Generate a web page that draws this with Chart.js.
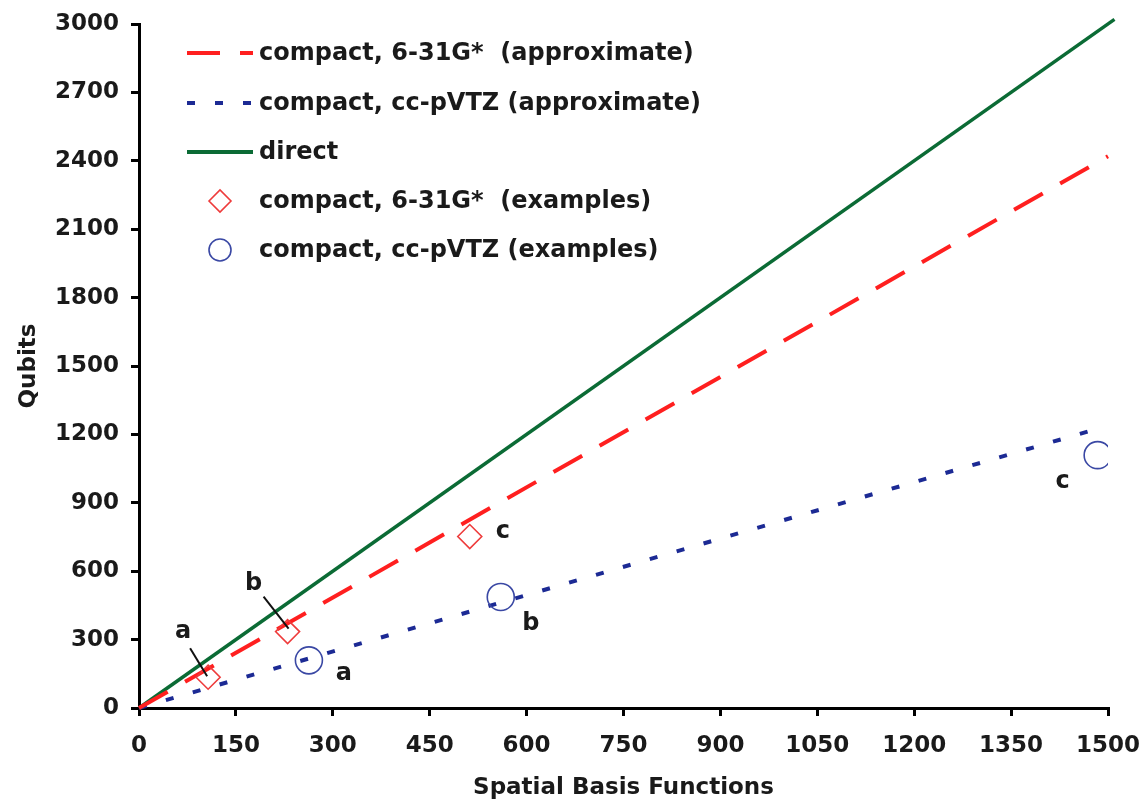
<!DOCTYPE html>
<html>
<head>
<meta charset="utf-8">
<script src="https://cdn.jsdelivr.net/npm/chart.js@4/dist/chart.umd.min.js"></script>
<style>
  body { margin: 0; background: #fff; }
  #wrap { width: 1146px; height: 805px; }
</style>
</head>
<body>
<div id="wrap"><canvas id="qubitChart" width="1146" height="805"></canvas></div>
<script>
// values

// approximate / direct lines (x = spatial basis functions, y = qubits)
const approx631X = [0, 1500];
const approx631Y = [0, 2420];
const approxCcX = [0, 1490];
const approxCcY = [0, 1230];
const directX = [0, 1510];
const directY = [0, 3020];

// worked examples a, b, c
const exampleNames = ['a', 'b', 'c'];
const ex631X = [107, 230, 512];
const ex631Y = [135, 335, 752];
const exCcX = [263, 560, 1484];
const exCcY = [209, 487, 1109];

const legendLabels = [
    'compact, 6-31G*  (approximate)',
    'compact, cc-pVTZ (approximate)',
    'direct',
    'compact, 6-31G*  (examples)',
    'compact, cc-pVTZ (examples)'
];

const RED = '#ff1f1f';
const BLUE = '#1c2a94';
const GREEN = '#0b6b35';
const RED_MARK = '#ee3b3b';
const BLUE_MARK = '#3a48a4';
const TEXT = '#1a1a1a';
const FONT = 'DejaVu Sans';

const pts = (xs, ys) => xs.map((x, i) => ({x: x, y: ys[i]}));

// pixel offsets of the a/b/c tags from their marker
const tagOffsets = {
    red:  [[-25, -45], [-34, -48], [33, -5]],
    blue: [[35, 13], [30, 27], [-35, 27]]
};
// leader lines for the red a and b tags
const leaders = [[[-18, -29], [-1, -1]], [[-24, -35], [1, -3]]];

const annotatePlugin = {
    id: 'annotate',
    afterDatasetsDraw(chart) {
        const ctx = chart.ctx;
        const xs = chart.scales.x, ys = chart.scales.y;
        ctx.save();
        ctx.font = 'bold 24px "' + FONT + '"';
        ctx.fillStyle = TEXT;
        ctx.textAlign = 'center';
        ctx.textBaseline = 'middle';
        exampleNames.forEach((n, i) => {
            let px = xs.getPixelForValue(ex631X[i]), py = ys.getPixelForValue(ex631Y[i]);
            ctx.fillText(n, px + tagOffsets.red[i][0], py + tagOffsets.red[i][1]);
            px = xs.getPixelForValue(exCcX[i]); py = ys.getPixelForValue(exCcY[i]);
            ctx.fillText(n, px + tagOffsets.blue[i][0], py + tagOffsets.blue[i][1]);
        });
        ctx.strokeStyle = '#111';
        ctx.lineWidth = 2;
        leaders.forEach((l, i) => {
            const px = xs.getPixelForValue(ex631X[i]), py = ys.getPixelForValue(ex631Y[i]);
            ctx.beginPath();
            ctx.moveTo(px + l[0][0], py + l[0][1]);
            ctx.lineTo(px + l[1][0], py + l[1][1]);
            ctx.stroke();
        });
        ctx.restore();
    },
    afterDraw(chart) {
        // legend inside the plot, top left
        const ctx = chart.ctx;
        const x0 = 187, x1 = 253, tx = 259;
        const rows = [53, 103, 152, 201, 250];
        ctx.save();
        ctx.lineWidth = 4;
        ctx.strokeStyle = RED;
        ctx.setLineDash([33, 20]);
        ctx.beginPath(); ctx.moveTo(x0, rows[0]); ctx.lineTo(x1, rows[0]); ctx.stroke();
        ctx.strokeStyle = BLUE;
        ctx.setLineDash([8, 20]);
        ctx.beginPath(); ctx.moveTo(x0, rows[1]); ctx.lineTo(x1, rows[1]); ctx.stroke();
        ctx.strokeStyle = GREEN;
        ctx.setLineDash([]);
        ctx.beginPath(); ctx.moveTo(x0, rows[2]); ctx.lineTo(x1, rows[2]); ctx.stroke();
        const mx = 220;
        ctx.lineWidth = 1.6;
        ctx.strokeStyle = RED_MARK;
        ctx.beginPath();
        ctx.moveTo(mx - 11, rows[3]); ctx.lineTo(mx, rows[3] - 11);
        ctx.lineTo(mx + 11, rows[3]); ctx.lineTo(mx, rows[3] + 11);
        ctx.closePath(); ctx.stroke();
        ctx.strokeStyle = BLUE_MARK;
        ctx.beginPath(); ctx.arc(mx, rows[4], 11, 0, Math.PI * 2); ctx.stroke();
        ctx.font = 'bold 24px "' + FONT + '"';
        ctx.fillStyle = TEXT;
        ctx.textAlign = 'left';
        ctx.textBaseline = 'middle';
        legendLabels.forEach((t, i) => ctx.fillText(t, tx, rows[i] + 1));
        ctx.restore();
    }
};

const lineSet = (label, data, color, dash, width) => ({
    label: label,
    data: data,
    showLine: true,
    borderColor: color,
    borderWidth: width,
    borderDash: dash,
    pointRadius: 0,
    pointHoverRadius: 0,
    fill: false,
    clip: false
});

const plainTick = v => String(v);

new Chart(document.getElementById('qubitChart'), {
    type: 'scatter',
    data: {
        datasets: [
            {
                label: legendLabels[3],
                data: pts(ex631X, ex631Y),
                pointStyle: 'rectRot',
                pointRadius: 12,
                borderColor: RED_MARK,
                backgroundColor: 'rgba(0,0,0,0)',
                borderWidth: 1.6
            },
            {
                label: legendLabels[4],
                data: pts(exCcX, exCcY),
                pointStyle: 'circle',
                pointRadius: 13.5,
                borderColor: BLUE_MARK,
                backgroundColor: 'rgba(0,0,0,0)',
                borderWidth: 1.6
            },
            lineSet(legendLabels[0], pts(approx631X, approx631Y), RED, [33, 20], 4),
            lineSet(legendLabels[1], pts(approxCcX, approxCcY), BLUE, [8, 20], 4),
            lineSet(legendLabels[2], pts(directX, directY), GREEN, [], 3.5)
        ]
    },
    options: {
        responsive: false,
        animation: false,
        events: [],
        layout: { padding: { top: 24, right: 38, left: 0, bottom: 0 } },
        plugins: {
            legend: { display: false },
            tooltip: { enabled: false }
        },
        scales: {
            x: {
                type: 'linear',
                min: 0,
                max: 1500,
                afterFit(scale) {
                    scale.height = 97;
                    scale.paddingRight = 0;
                    scale.paddingLeft = 0;
                },
                afterBuildTicks(scale) {
                    scale.ticks = [];
                    for (let v = 0; v <= 1500; v += 150) scale.ticks.push({value: v});
                },
                border: { color: '#000', width: 3 },
                grid: { drawOnChartArea: false, tickLength: 8, tickColor: '#000', lineWidth: 3 },
                ticks: {
                    color: TEXT,
                    padding: 16,
                    maxRotation: 0,
                    callback: plainTick,
                    font: { family: FONT, size: 23, weight: 'bold' }
                },
                title: {
                    display: true,
                    text: 'Spatial Basis Functions',
                    color: TEXT,
                    padding: { top: 4, bottom: 3 },
                    font: { family: FONT, size: 23, weight: 'bold' }
                }
            },
            y: {
                type: 'linear',
                min: 0,
                max: 3000,
                afterFit(scale) {
                    scale.width = 139;
                    scale.paddingTop = 0;
                    scale.paddingBottom = 0;
                },
                afterBuildTicks(scale) {
                    scale.ticks = [];
                    for (let v = 0; v <= 3000; v += 300) scale.ticks.push({value: v});
                },
                border: { color: '#000', width: 3 },
                grid: { drawOnChartArea: false, tickLength: 8, tickColor: '#000', lineWidth: 3 },
                ticks: {
                    color: TEXT,
                    padding: 12,
                    callback: plainTick,
                    font: { family: FONT, size: 23, weight: 'bold' }
                },
                title: {
                    display: true,
                    text: 'Qubits',
                    color: TEXT,
                    padding: { top: 15, bottom: 4 },
                    font: { family: FONT, size: 23, weight: 'bold' }
                }
            }
        }
    },
    plugins: [annotatePlugin]
});
</script>
</body>
</html>
